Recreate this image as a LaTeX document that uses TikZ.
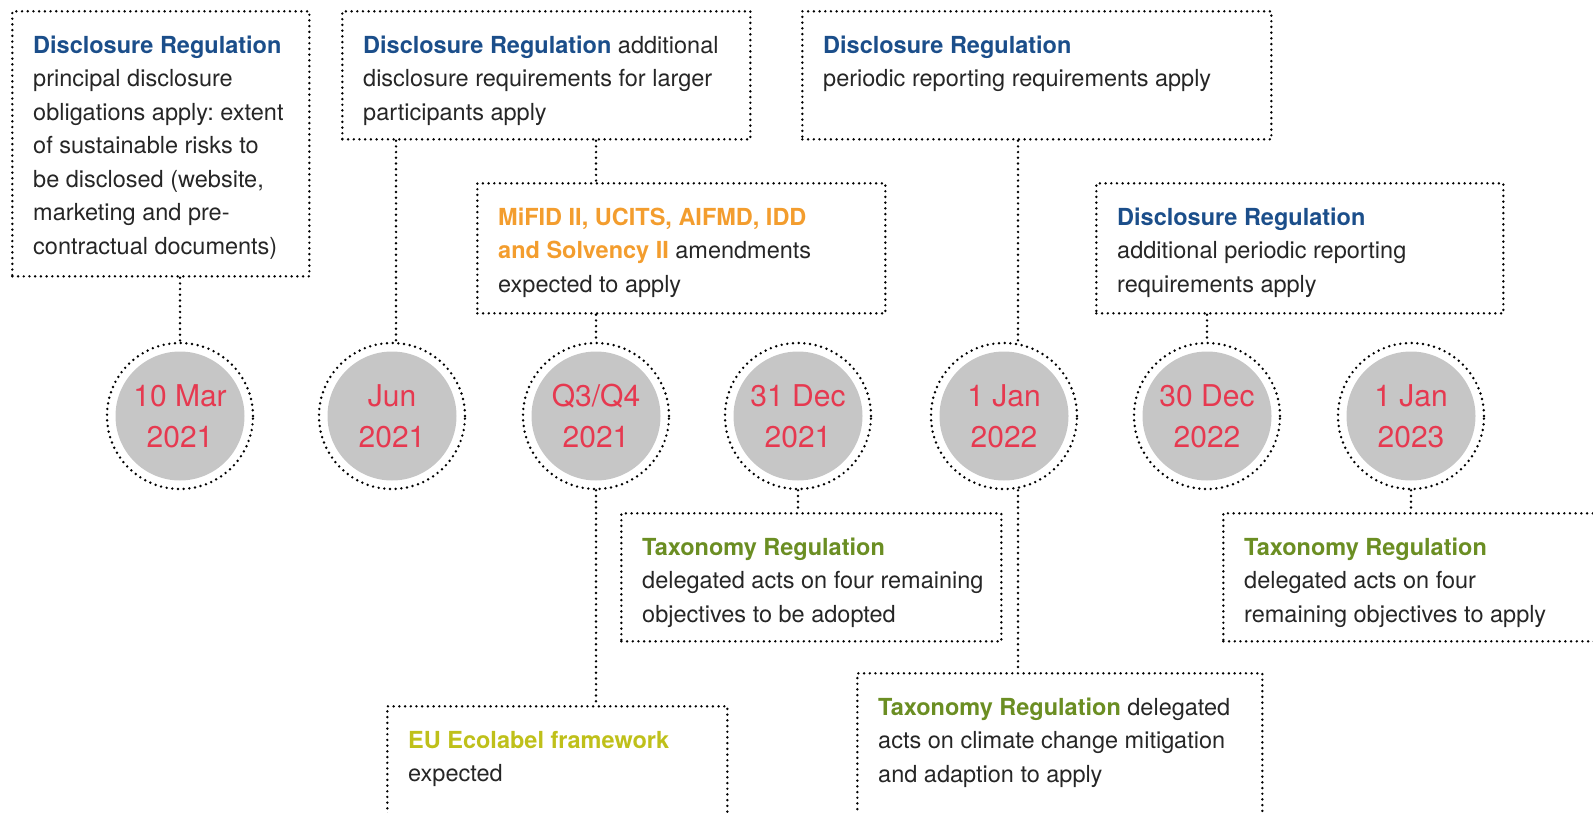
\documentclass[tikz,border=0pt]{standalone}
\usepackage{fontspec}
\setmainfont{TeX Gyre Heros}
\frenchspacing
\definecolor{dblue}{HTML}{1B4E8A}
\definecolor{orng}{HTML}{F39D2E}
\definecolor{tgreen}{HTML}{6B8E23}
\definecolor{ecoyel}{HTML}{BFC01A}
\definecolor{datered}{HTML}{E63950}
\definecolor{discgrey}{HTML}{C6C6C6}
\definecolor{bodyc}{HTML}{262626}
\newcommand{\regtitle}[2]{\textcolor{#1}{\bfseries #2}}
\newcommand{\firststrut}{\rule{0pt}{18pt}}
\begin{document}
\begin{tikzpicture}[x=1pt,y=-1pt,
  dots/.style={draw=black, line width=2.7pt, line cap=round, dash pattern=on 0pt off 5.7pt},
  frame/.style={dots, rectangle, inner sep=0pt, anchor=north west},
  body/.style={anchor=north west, inner sep=0pt, align=left, text=bodyc, font=\fontsize{23.5}{33.5}\selectfont},
  ring/.style={circle, dots, minimum size=146pt, inner sep=0pt},
  disc/.style={circle, fill=discgrey, minimum size=129pt, inner sep=0pt, text=datered, align=center, font=\fontsize{30}{41}\selectfont},
  conn/.style={dots}]
\useasboundingbox (0,0) rectangle (1593,813);
\clip (0,0) rectangle (1593,813);

% frames
\node[frame, minimum width=297pt, minimum height=265pt] (b1) at (11,10) {};
\node[frame, minimum width=408pt, minimum height=128pt] (b2) at (341,10) {};
\node[frame, minimum width=408pt, minimum height=130pt] (b3) at (476,182) {};
\node[frame, minimum width=469pt, minimum height=128pt] (b4) at (801,10) {};
\node[frame, minimum width=407pt, minimum height=130pt] (b5) at (1095,182) {};
\node[frame, minimum width=380pt, minimum height=128pt] (b6) at (620,512) {};
\node[frame, minimum width=400pt, minimum height=128pt] (b7) at (1222,512) {};
\node[frame, minimum width=340pt, minimum height=130pt] (b8) at (386,705) {};
\node[frame, minimum width=405pt, minimum height=160pt] (b9) at (856,672) {};

% texts
\node[body] (t1) at (33,35) {\firststrut\regtitle{dblue}{Disclosure Regulation}\\
principal disclosure\\ obligations apply: extent\\ of sustainable risks to\\
be disclosed (website,\\ marketing and pre-\\ contractual documents)};
\node[body] (t2) at (363,35) {\firststrut\regtitle{dblue}{Disclosure Regulation} additional\\
disclosure requirements for larger\\ participants apply};
\node[body] (t3) at (498,207) {\firststrut\regtitle{orng}{MiFID II, UCITS, AIFMD, IDD}\\
\regtitle{orng}{and Solvency II} amendments\\ expected to apply};
\node[body] (t4) at (823,35) {\firststrut\regtitle{dblue}{Disclosure Regulation}\\
periodic reporting requirements apply};
\node[body] (t5) at (1117,207) {\firststrut\regtitle{dblue}{Disclosure Regulation}\\
additional periodic reporting\\ requirements apply};
\node[body] (t6) at (642,537) {\firststrut\regtitle{tgreen}{Taxonomy Regulation}\\
delegated acts on four remaining\\ objectives to be adopted};
\node[body] (t7) at (1244,537) {\firststrut\regtitle{tgreen}{Taxonomy Regulation}\\
delegated acts on four\\ remaining objectives to apply};
\node[body] (t8) at (408,730) {\firststrut\regtitle{ecoyel}{EU Ecolabel framework}\\ expected};
\node[body] (t9) at (878,697) {\firststrut\regtitle{tgreen}{Taxonomy Regulation} delegated\\
acts on climate change mitigation\\ and adaption to apply};

% date circles
\foreach \i/\x/\d in {1/180/{10 Mar\\2021}, 2/392/{Jun\\2021}, 3/596/{Q3/Q4\\2021},
  4/798/{31 Dec\\2021}, 5/1004/{1 Jan\\2022}, 6/1207/{30 Dec\\2022}, 7/1411/{1 Jan\\2023}} {
  \node[ring] (c\i) at (\x,416) {};
  \node[disc] (d\i) at (c\i) {\d};
}

% connectors
\draw[conn] (c1.north |- b1.south) -- (c1.north);
\draw[conn] ([xshift=4pt]c2.north |- b2.south) -- ([xshift=4pt]c2.north);
\draw[conn] (c3.north |- b2.south) -- (c3.north |- b3.north);
\draw[conn] (c3.north |- b3.south) -- (c3.north);
\draw[conn] (c3.south) -- (c3.south |- b8.north);
\draw[conn] (c4.south) -- (c4.south |- b6.north);
\draw[conn] ([xshift=14pt]c5.north |- b4.south) -- ([xshift=14pt]c5.north);
\draw[conn] ([xshift=14pt]c5.south) -- ([xshift=14pt]c5.south |- b9.north);
\draw[conn] (c6.north |- b5.south) -- (c6.north);
\draw[conn] (c7.south) -- (c7.south |- b7.north);
\end{tikzpicture}
\end{document}
